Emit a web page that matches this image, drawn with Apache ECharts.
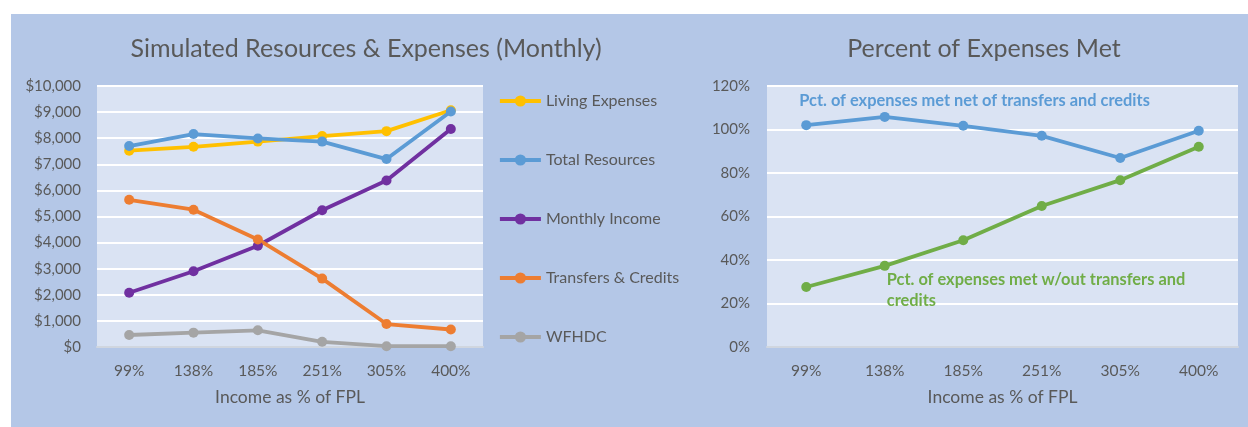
<!DOCTYPE html>
<html>
<head>
<meta charset="utf-8">
<script src="https://cdn.jsdelivr.net/npm/echarts@6/dist/echarts.min.js"></script>
<style>
  html, body { margin: 0; padding: 0; background: #fff; }
  #chart { width: 1248px; height: 427px; }
</style>
</head>
<body>
<div id="chart"></div>
<script>
const categories = ['99%', '138%', '185%', '251%', '305%', '400%']
const livingExpenses = [7520, 7670, 7870, 8080, 8270, 9070]
const totalResources = [7700, 8160, 7990, 7870, 7200, 9020]
const monthlyIncome = [2080, 2900, 3880, 5240, 6380, 8350]
const transfersCredits = [5640, 5260, 4120, 2620, 880, 670]
const wfhdc = [460, 550, 640, 200, 30, 30]
const pctNet = [102.0, 105.8, 101.7, 97.1, 86.9, 99.4]
const pctWithout = [27.6, 37.3, 49.1, 64.8, 76.7, 92.1]

const font = 'Lato'
const gray = '#595959'

const chart = echarts.init(document.getElementById('chart'))

function lineSeries(name, data, color, x) {
  return {
    name: name,
    type: 'line',
    xAxisIndex: x,
    yAxisIndex: x,
    data: data,
    symbol: 'circle',
    symbolSize: 10,
    lineStyle: { width: 3.8, color: color },
    itemStyle: { color: color },
    emphasis: { disabled: true },
    animation: false
  }
}

const netSeries = lineSeries('Pct. of expenses met net of transfers and credits', pctNet.map((v, i) => {
  if (i !== 0) return v
  return {
    value: v,
    label: {
      show: true,
      position: [-2, -19],
      verticalAlign: 'middle',
      align: 'left',
      formatter: 'Pct. of expenses met net of transfers and credits',
      color: '#5B9BD5',
      fontWeight: 'bold',
      fontSize: 16.4,
      fontFamily: font
    }
  }
}), '#5B9BD5', 1)

const withoutSeries = lineSeries('Pct. of expenses met w/out transfers and credits', pctWithout.map((v, i) => {
  if (i !== 1) return v
  return {
    value: v,
    label: {
      show: true,
      position: [7, 8],
      verticalAlign: 'top',
      align: 'left',
      lineHeight: 21,
      formatter: 'Pct. of expenses met w/out transfers and\ncredits',
      color: '#70AD47',
      fontWeight: 'bold',
      fontSize: 16.4,
      fontFamily: font
    }
  }
}), '#70AD47', 1)

function xAxisOf(idx) {
  return {
    type: 'category',
    gridIndex: idx,
    data: categories,
    boundaryGap: true,
    axisLine: { show: true, lineStyle: { color: '#D0D6DF', width: 2 } },
    axisTick: { show: false },
    axisLabel: { color: gray, fontSize: 15.5, fontFamily: font, margin: 16 },
    name: 'Income as % of FPL',
    nameLocation: 'middle',
    nameGap: 41,
    nameTextStyle: { color: gray, fontSize: 17.5, fontFamily: font }
  }
}

chart.setOption({
  backgroundColor: '#ffffff',
  graphic: [
    {
      type: 'rect',
      z: -10,
      shape: { x: 11, y: 14, width: 1237, height: 413 },
      style: { fill: '#B4C7E7' }
    },
    {
      // bottom edge of a line of text cut off above the picture
      type: 'text',
      x: 111,
      y: -1,
      style: {
        text: 'Category)',
        align: 'right',
        verticalAlign: 'bottom',
        fontSize: 24,
        fontFamily: font,
        fill: '#000'
      }
    }
  ],
  title: [
    {
      text: 'Simulated Resources & Expenses (Monthly)',
      left: 361,
      textAlign: 'center',
      top: 31,
      textStyle: { color: gray, fontSize: 25, fontWeight: 'normal', fontFamily: font }
    },
    {
      text: 'Percent of Expenses Met',
      left: 979,
      textAlign: 'center',
      top: 31,
      textStyle: { color: gray, fontSize: 25, fontWeight: 'normal', fontFamily: font }
    }
  ],
  legend: {
    orient: 'vertical',
    left: 498,
    top: 93,
    padding: 0,
    itemWidth: 41,
    itemHeight: 14,
    itemGap: 43,
    lineStyle: { width: 3.8 },
    textStyle: { color: gray, fontSize: 16, fontFamily: font, lineHeight: 16 },
    data: ['Living Expenses', 'Total Resources', 'Monthly Income', 'Transfers & Credits', 'WFHDC']
  },
  grid: [
    { left: 97, top: 86, width: 386, height: 261, show: true, backgroundColor: '#DAE3F3', borderWidth: 0 },
    { left: 767, top: 86, width: 471, height: 261, show: true, backgroundColor: '#DAE3F3', borderWidth: 0 }
  ],
  xAxis: [xAxisOf(0), xAxisOf(1)],
  yAxis: [
    {
      type: 'value',
      gridIndex: 0,
      min: 0,
      max: 10000,
      interval: 1000,
      axisLine: { show: false },
      axisTick: { show: false },
      splitLine: { lineStyle: { color: '#ffffff', width: 2 } },
      axisLabel: {
        color: gray,
        fontSize: 15,
        fontFamily: font,
        margin: 16,
        formatter: v => '$' + v.toLocaleString('en-US')
      }
    },
    {
      type: 'value',
      gridIndex: 1,
      min: 0,
      max: 120,
      interval: 20,
      axisLine: { show: false },
      axisTick: { show: false },
      splitLine: { lineStyle: { color: '#ffffff', width: 2 } },
      axisLabel: { color: gray, fontSize: 15, fontFamily: font, margin: 17, formatter: '{value}%' }
    }
  ],
  series: [
    lineSeries('Living Expenses', livingExpenses, '#FFC000', 0),
    lineSeries('Total Resources', totalResources, '#5B9BD5', 0),
    lineSeries('Monthly Income', monthlyIncome, '#7030A0', 0),
    lineSeries('Transfers & Credits', transfersCredits, '#ED7D31', 0),
    lineSeries('WFHDC', wfhdc, '#A5A5A5', 0),
    netSeries,
    withoutSeries
  ]
})
</script>
</body>
</html>
